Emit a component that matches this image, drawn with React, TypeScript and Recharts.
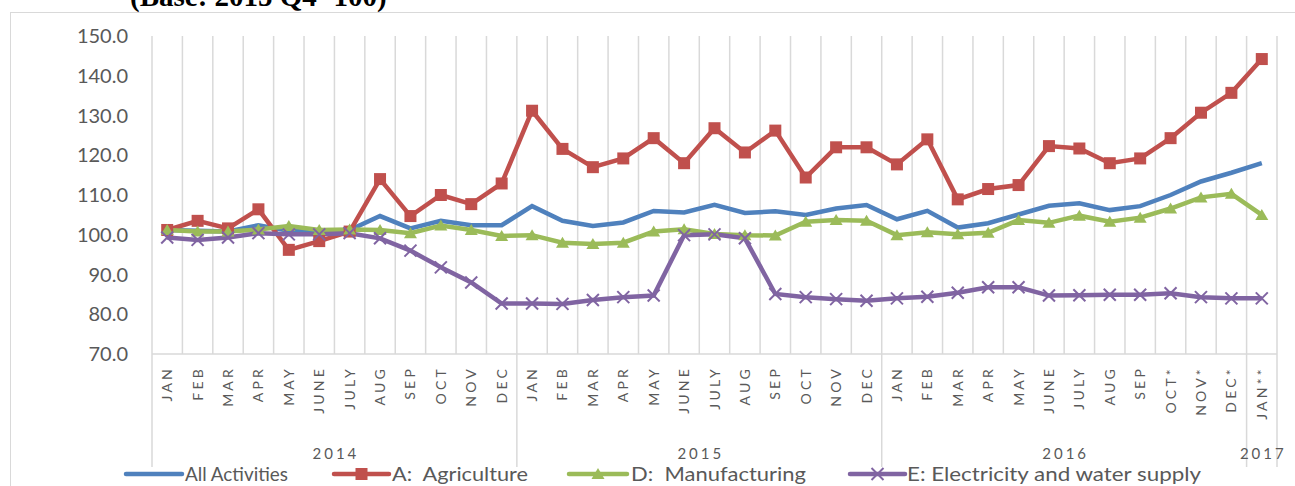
import { LineChart, Line, XAxis, YAxis, CartesianGrid } from "recharts"

const monthLabels = [
  "JAN", "FEB", "MAR", "APR", "MAY", "JUNE", "JULY", "AUG", "SEP", "OCT", "NOV", "DEC",
  "JAN", "FEB", "MAR", "APR", "MAY", "JUNE", "JULY", "AUG", "SEP", "OCT", "NOV", "DEC",
  "JAN", "FEB", "MAR", "APR", "MAY", "JUNE", "JULY", "AUG", "SEP", "OCT*", "NOV*", "DEC*",
  "JAN**",
]

const yearLabels = [
  "2014", "2014", "2014", "2014", "2014", "2014", "2014", "2014", "2014", "2014", "2014", "2014",
  "2015", "2015", "2015", "2015", "2015", "2015", "2015", "2015", "2015", "2015", "2015", "2015",
  "2016", "2016", "2016", "2016", "2016", "2016", "2016", "2016", "2016", "2016", "2016", "2016",
  "2017",
]

const allActivities = [
  101.2, 101.0, 100.8, 102.4, 101.0, 100.8, 101.2, 104.7, 101.6, 103.5, 102.4, 102.4,
  107.2, 103.5, 102.2, 103.1, 106.0, 105.6, 107.5, 105.5, 105.9, 105.0, 106.6, 107.5,
  103.9, 106.0, 101.8, 102.9, 105.1, 107.3, 107.9, 106.2, 107.2, 110.0, 113.4, 115.6,
  118.0,
]

const agriculture = [
  101.2, 103.5, 101.6, 106.4, 96.2, 98.4, 100.8, 114.0, 104.7, 110.0, 107.7, 112.9,
  131.2, 121.6, 117.0, 119.2, 124.3, 118.0, 126.8, 120.7, 126.2, 114.4, 122.0, 122.0,
  117.7, 124.0, 108.9, 111.5, 112.5, 122.3, 121.7, 118.0, 119.2, 124.3, 130.7, 135.7,
  144.2,
]

const manufacturing = [
  101.2, 100.8, 100.8, 101.3, 102.2, 101.2, 101.3, 101.2, 100.4, 102.3, 101.2, 99.7,
  99.9, 98.0, 97.7, 98.0, 100.8, 101.4, 100.2, 99.9, 99.8, 103.3, 103.7, 103.5,
  99.9, 100.6, 100.1, 100.5, 103.7, 103.0, 104.8, 103.3, 104.3, 106.6, 109.4, 110.3,
  105.0,
]

const electricity = [
  99.3, 98.7, 99.3, 100.4, 100.1, 100.1, 100.4, 99.1, 96.0, 91.8, 88.0, 82.7,
  82.7, 82.6, 83.6, 84.3, 84.7, 99.9, 100.1, 99.1, 85.1, 84.3, 83.8, 83.4,
  84.0, 84.4, 85.4, 86.8, 86.8, 84.7, 84.8, 84.9, 84.9, 85.3, 84.3, 84.0,
  84.0,
]

const yTicks = [70, 80, 90, 100, 110, 120, 130, 140, 150]

const data = monthLabels.map((m, i) => ({
  key: `${yearLabels[i]}-${i}`,
  month: m,
  year: yearLabels[i],
  all: allActivities[i],
  agri: agriculture[i],
  manu: manufacturing[i],
  elec: electricity[i],
}))

const BLUE = "#4F81BD"
const RED = "#C0504D"
const GREEN = "#9BBB59"
const PURPLE = "#8064A2"
const GRID = "#D9D9D9"
const TEXT = "#595959"
const FONT = "Lato, 'Open Sans', sans-serif"

const WIDTH = 1295
const HEIGHT = 486
const PLOT_LEFT = 152
const PLOT_RIGHT = 1277
const BAND = (PLOT_RIGHT - PLOT_LEFT) / monthLabels.length

function SquareDot({ cx, cy }: any) {
  if (cx == null || cy == null) return null
  return <rect x={cx - 6} y={cy - 6} width={12} height={12} fill={RED} />
}

function TriangleDot({ cx, cy }: any) {
  if (cx == null || cy == null) return null
  return (
    <polygon
      points={`${cx},${cy - 6} ${cx + 6.5},${cy + 5} ${cx - 6.5},${cy + 5}`}
      fill={GREEN}
    />
  )
}

function CrossDot({ cx, cy }: any) {
  if (cx == null || cy == null) return null
  return (
    <g stroke={PURPLE} strokeWidth={2}>
      <line x1={cx - 6} y1={cy - 6} x2={cx + 6} y2={cy + 6} />
      <line x1={cx - 6} y1={cy + 6} x2={cx + 6} y2={cy - 6} />
    </g>
  )
}

function MonthTick({ x, y, payload }: any) {
  const i = payload.index
  const row = data[i]
  const first = i === 0 || data[i - 1].year !== row.year
  const yearCount = data.filter((d) => d.year === row.year).length
  const posInYear = data.slice(0, i).filter((d) => d.year === row.year).length
  const isMiddle = yearCount === 1 ? true : posInYear === Math.floor(yearCount / 2) - 1
  const yearX = yearCount === 1 ? x : x + BAND / 2
  return (
    <g>
      <text
        transform={`translate(${x + 5},${y + 12}) rotate(-90)`}
        textAnchor="end"
        fontSize={14}
        letterSpacing={3.2}
        fill={TEXT}
        fontFamily={FONT}
      >
        {row.month}
      </text>
      {first && (
        <line x1={x - BAND / 2} y1={y} x2={x - BAND / 2} y2={y + 113} stroke={GRID} strokeWidth={1.5} />
      )}
      {i === data.length - 1 && (
        <line x1={x + BAND / 2} y1={y} x2={x + BAND / 2} y2={y + 113} stroke={GRID} strokeWidth={1.5} />
      )}
      {isMiddle && (
        <text
          x={yearX + 1.5}
          y={y + 105}
          textAnchor="middle"
          fontSize={15}
          letterSpacing={3}
          fill={TEXT}
          fontFamily={FONT}
        >
          {row.year}
        </text>
      )}
    </g>
  )
}

// legend layout: line start/end and text start/width, px
const legendItems = [
  { label: "All Activities", color: BLUE, marker: "none", x1: 126, x2: 182, tx: 185, tw: 103 },
  { label: "A:  Agriculture", color: RED, marker: "square", x1: 334, x2: 389, tx: 392, tw: 136 },
  { label: "D:  Manufacturing", color: GREEN, marker: "triangle", x1: 569, x2: 627, tx: 631, tw: 175 },
  { label: "E: Electricity and water supply", color: PURPLE, marker: "cross", x1: 850, x2: 905, tx: 907, tw: 294 },
]

function Legend() {
  const cy = 14
  return (
    <svg
      width={WIDTH}
      height={26}
      style={{ position: "absolute", left: 0, top: 460, display: "block" }}
    >
      {legendItems.map((it) => {
        const mx = (it.x1 + it.x2) / 2
        return (
          <g key={it.label}>
            <line x1={it.x1} y1={cy} x2={it.x2} y2={cy} stroke={it.color} strokeWidth={4.5} strokeLinecap="round" />
            {it.marker === "square" && <rect x={mx - 6} y={cy - 6} width={12} height={12} fill={it.color} />}
            {it.marker === "triangle" && (
              <polygon points={`${mx},${cy - 6} ${mx + 6.5},${cy + 5} ${mx - 6.5},${cy + 5}`} fill={it.color} />
            )}
            {it.marker === "cross" && (
              <g stroke={it.color} strokeWidth={2}>
                <line x1={mx - 6} y1={cy - 6} x2={mx + 6} y2={cy + 6} />
                <line x1={mx - 6} y1={cy + 6} x2={mx + 6} y2={cy - 6} />
              </g>
            )}
            <text
              x={it.tx}
              y={cy + 7}
              fontFamily={FONT}
              fontSize={20}
              fill={TEXT}
              textLength={it.tw}
              lengthAdjust="spacingAndGlyphs"
              style={{ whiteSpace: "pre" }}
            >
              {it.label}
            </text>
          </g>
        )
      })}
    </svg>
  )
}

export default function App() {
  return (
    <div
      style={{
        position: "absolute",
        left: 0,
        top: 0,
        width: WIDTH,
        height: HEIGHT,
        overflow: "hidden",
        background: "#fff",
      }}
    >
      <div
        style={{
          position: "absolute",
          left: 10,
          top: 12,
          width: 1320,
          height: 520,
          border: `1.5px solid ${GRID}`,
        }}
      />
      <div
        style={{
          position: "absolute",
          left: 130,
          top: -19,
          fontFamily: "'Liberation Serif', serif",
          fontWeight: "bold",
          fontSize: 29,
          lineHeight: "30px",
          color: "#000",
          whiteSpace: "pre",
        }}
      >
        (Base: 2015 Q4=100)
      </div>
      <div style={{ position: "absolute", left: 0, top: 0 }}>
        <LineChart
          width={WIDTH}
          height={HEIGHT}
          data={data}
          margin={{ top: 36, right: WIDTH - PLOT_RIGHT, bottom: 0, left: 0 }}
        >
          <CartesianGrid
            horizontal={false}
            stroke={GRID}
            strokeWidth={1.5}
            verticalCoordinatesGenerator={({ offset }: any) =>
              Array.from(
                { length: monthLabels.length + 1 },
                (_, i) => offset.left + (i * offset.width) / monthLabels.length
              )
            }
          />
          <XAxis
            dataKey="key"
            interval={0}
            height={HEIGHT - 36 - 318}
            padding={{ left: BAND / 2, right: BAND / 2 }}
            axisLine={{ stroke: GRID, strokeWidth: 1.5 }}
            tickLine={false}
            tickSize={0}
            tickMargin={0}
            tick={<MonthTick />}
          />
          <YAxis
            width={PLOT_LEFT}
            domain={[70, 150]}
            ticks={yTicks}
            interval={0}
            axisLine={false}
            tickLine={false}
            tickSize={0}
            tickMargin={24}
            tickFormatter={(v: number) => v.toFixed(1)}
            tick={{ fill: TEXT, fontSize: 20, fontFamily: FONT }}
          />
          <Line
            type="linear"
            dataKey="all"
            stroke={BLUE}
            strokeWidth={4.5}
            dot={false}
            activeDot={false}
            isAnimationActive={false}
          />
          <Line
            type="linear"
            dataKey="agri"
            stroke={RED}
            strokeWidth={4.5}
            dot={<SquareDot />}
            activeDot={false}
            isAnimationActive={false}
          />
          <Line
            type="linear"
            dataKey="manu"
            stroke={GREEN}
            strokeWidth={4.5}
            dot={<TriangleDot />}
            activeDot={false}
            isAnimationActive={false}
          />
          <Line
            type="linear"
            dataKey="elec"
            stroke={PURPLE}
            strokeWidth={4.5}
            dot={<CrossDot />}
            activeDot={false}
            isAnimationActive={false}
          />
        </LineChart>
      </div>
      <Legend />
    </div>
  )
}
